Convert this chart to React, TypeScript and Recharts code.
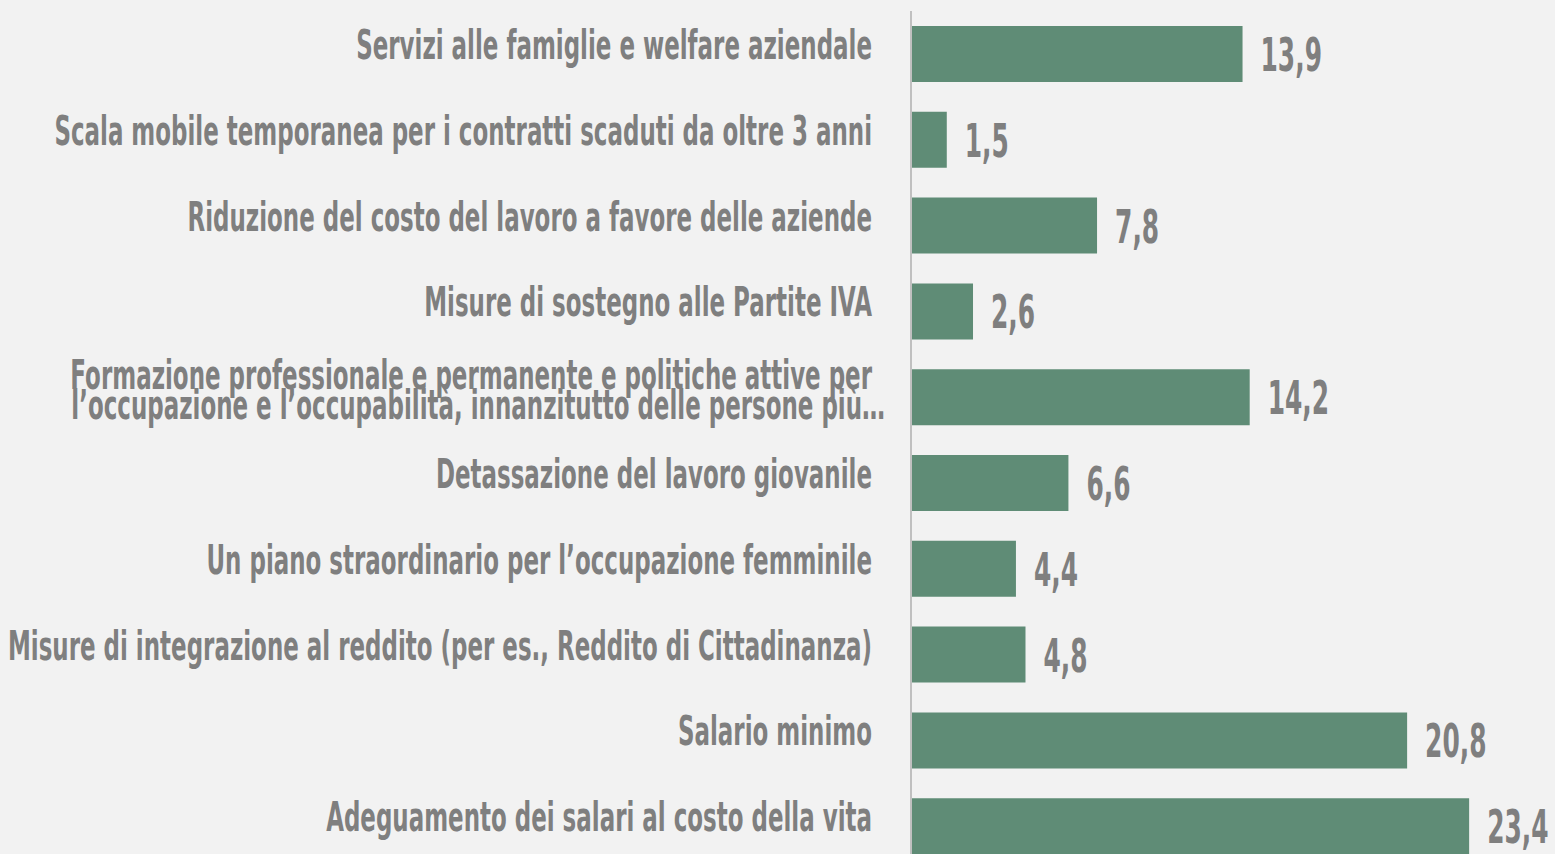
import { BarChart, Bar, XAxis, YAxis, LabelList } from 'recharts'

// Categories, top to bottom
const categories = [
    'Servizi alle famiglie e welfare aziendale',
    'Scala mobile temporanea per i contratti scaduti da oltre 3 anni',
    'Riduzione del costo del lavoro a favore delle aziende',
    'Misure di sostegno alle Partite IVA',
    'Formazione professionale e permanente e politiche attive per\nl’occupazione e l’occupabilità, innanzitutto delle persone più…',
    'Detassazione del lavoro giovanile',
    'Un piano straordinario per l’occupazione femminile',
    'Misure di integrazione al reddito (per es., Reddito di Cittadinanza)',
    'Salario minimo',
    'Adeguamento dei salari al costo della vita',
]

const values = [13.9, 1.5, 7.8, 2.6, 14.2, 6.6, 4.4, 4.8, 20.8, 23.4]

const data = categories.map((name, i) => ({ name, value: values[i] }))

const FONT = "'DejaVu Sans', sans-serif"
const TEXT = '#7f7f7f'
const BAR = '#5f8c76'

// Condensed look: squeeze the text horizontally
function CategoryTick({ x, y, payload }: any) {
    const lines = String(payload.value).split('\n')
    return (
        <g>
            {lines.map((l, i) => {
                const by = lines.length === 1 ? y + 5 : y - 8 + i * 30
                const rx = lines.length > 1 && i === 1 ? x - 18 : x - 31
                return (
                    <text
                        key={i}
                        transform={`translate(${rx},${by}) scale(0.574,1)`}
                        x={0}
                        y={0}
                        textAnchor="end"
                        fill={TEXT}
                        fontFamily={FONT}
                        fontWeight="bold"
                        fontSize={40}
                    >
                        {l}
                    </text>
                )
            })}
        </g>
    )
}

function ValueLabel({ x, y, width, height, value }: any) {
    const lx = x + width + 18
    const ly = y + height / 2 + 17
    return (
        <text
            transform={`translate(${lx},${ly}) scale(0.53,1)`}
            x={0}
            y={0}
            textAnchor="start"
            fill={TEXT}
            fontFamily={FONT}
            fontWeight="bold"
            fontSize={47}
        >
            {Number(value).toFixed(1).replace('.', ',')}
        </text>
    )
}

export default function App() {
    return (
        <div
            style={{
                position: 'fixed',
                top: 0,
                left: 0,
                width: 1555,
                height: 854,
                overflow: 'hidden',
                background: '#f2f2f2',
            }}
        >
            <BarChart
                width={1555}
                height={869}
                data={data}
                layout="vertical"
                margin={{ top: 11, right: 0, left: 0, bottom: 0 }}
                barCategoryGap="17.5%"
            >
                <XAxis type="number" domain={[0, 27]} hide />
                <YAxis
                    type="category"
                    dataKey="name"
                    width={911}
                    tick={<CategoryTick />}
                    tickLine={false}
                    axisLine={{ stroke: '#c0c0c0', strokeWidth: 2 }}
                    interval={0}
                />
                <Bar dataKey="value" fill={BAR} isAnimationActive={false}>
                    <LabelList dataKey="value" content={<ValueLabel />} />
                </Bar>
            </BarChart>
        </div>
    )
}
